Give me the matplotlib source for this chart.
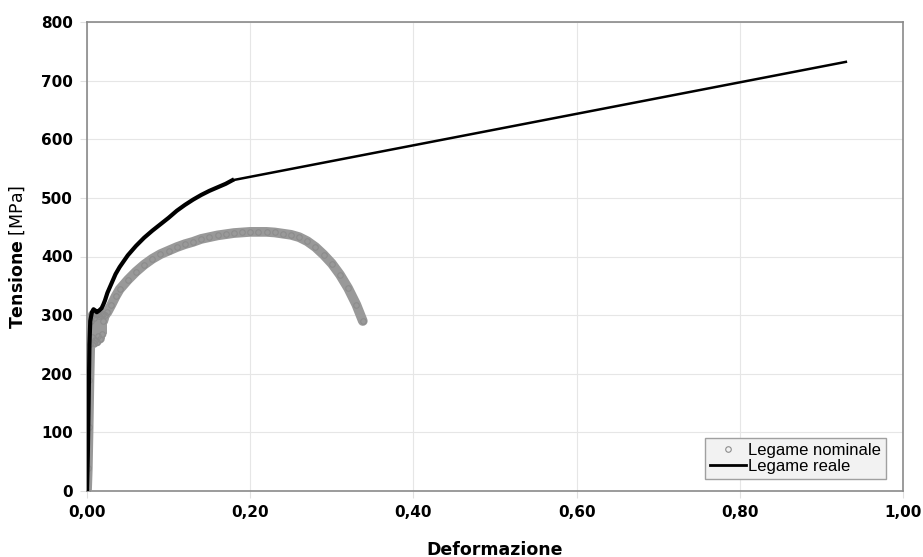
import numpy as np
import matplotlib.pyplot as plt
from matplotlib.lines import Line2D
from matplotlib.ticker import FuncFormatter

# --- data ---
# nominal curve (engineering stress-strain)
nom_strain = [0.000, 0.001, 0.002, 0.003, 0.004, 0.005, 0.006, 0.007, 0.008, 0.009,
              0.010, 0.011, 0.012, 0.013, 0.014, 0.015, 0.016, 0.017, 0.018, 0.019,
              0.020, 0.022, 0.025, 0.030, 0.035, 0.040, 0.050, 0.060, 0.070, 0.080,
              0.090, 0.100, 0.110, 0.120, 0.130, 0.140, 0.150, 0.160, 0.170, 0.180,
              0.190, 0.200, 0.210, 0.220, 0.230, 0.240, 0.250, 0.260, 0.270, 0.280,
              0.290, 0.300, 0.310, 0.320, 0.330, 0.338]
nom_stress = [0, 40, 110, 190, 250, 290, 262, 300, 252, 295,
              258, 302, 255, 302, 265, 298, 260, 300, 268, 302,
              290, 300, 305, 318, 332, 344, 360, 374, 386, 396,
              404, 410, 416, 421, 425, 430, 433, 436, 438, 440,
              441, 442, 442, 442, 441, 439, 437, 433, 426, 416,
              403, 388, 369, 346, 318, 290]

# real curve (true stress-strain)
real_strain = [0.000, 0.001, 0.002, 0.003, 0.004, 0.006, 0.008, 0.010, 0.012, 0.015,
               0.018, 0.020, 0.022, 0.025, 0.030, 0.035, 0.040, 0.050, 0.060, 0.070,
               0.080, 0.090, 0.100, 0.110, 0.120, 0.130, 0.140, 0.150, 0.160, 0.170,
               0.178, 0.930]
real_stress = [0, 60, 150, 250, 290, 305, 310, 308, 305, 308,
               312, 318, 325, 338, 354, 370, 382, 402, 418, 432,
               444, 455, 466, 478, 488, 497, 505, 512, 518, 524,
               530, 732]

x_ticks = [0.0, 0.2, 0.4, 0.6, 0.8, 1.0]
y_ticks = [0, 100, 200, 300, 400, 500, 600, 700, 800]

fig = plt.figure(figsize=(9.23, 5.57), dpi=100)
ax = fig.add_axes([87 / 923, 1 - 491 / 557, 816 / 923, 469 / 557])

gray = '#999999'
ax.plot(nom_strain, nom_stress, color=gray, lw=7, solid_capstyle='round', zorder=3)
ax.plot(nom_strain, nom_stress, ls='none', marker='o', ms=4, mfc='none',
        mec='#8c8c8c', mew=0.8, zorder=3)
ax.plot(real_strain[:-1], real_stress[:-1], color='black', lw=3, zorder=4)
ax.plot(real_strain[-2:], real_stress[-2:], color='black', lw=1.8, zorder=4)

ax.set_xlim(0, 1.0)
ax.set_ylim(0, 800)
ax.set_xticks(x_ticks)
ax.set_yticks(y_ticks)
ax.xaxis.set_major_formatter(FuncFormatter(lambda v, p: f'{v:.2f}'.replace('.', ',')))
ax.grid(True, color='#e6e6e6', lw=0.8)
ax.set_axisbelow(True)
ax.tick_params(axis='both', direction='out', length=5, color='#e0e0e0',
               labelsize=11, pad=5)
for lab in ax.get_xticklabels() + ax.get_yticklabels():
    lab.set_fontweight('bold')
for s in ax.spines.values():
    s.set_color('#8a8a8a')
    s.set_linewidth(1.2)

plt.rcParams['mathtext.fontset'] = 'dejavusans'
ax.set_xlabel('Deformazione', fontsize=12.5, fontweight='bold', labelpad=15)
ax.set_ylabel(r'$\mathbf{Tensione}$ [MPa]', fontsize=12.5, labelpad=10)

handles = [Line2D([], [], ls='none', marker='o', ms=4, mfc='none', mec='#8c8c8c', mew=0.8),
           Line2D([], [], color='black', lw=2)]
leg = ax.legend(handles, ['Legame nominale', 'Legame reale'], loc='lower right',
                bbox_to_anchor=(0.979, 0.025), prop={'family': 'Liberation Sans', 'size': 12},
                fancybox=False, frameon=True, handlelength=2.2, handletextpad=0.1,
                borderpad=0.3, labelspacing=0.1, borderaxespad=0)
leg.get_frame().set_facecolor('#f2f2f2')
leg.get_frame().set_edgecolor('#a0a0a0')
leg.get_frame().set_alpha(1)

fig.savefig('out.png', dpi=100)
